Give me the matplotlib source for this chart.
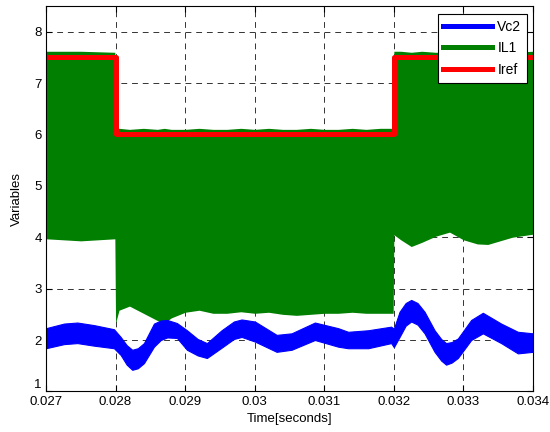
import matplotlib
matplotlib.use("Agg")
import matplotlib.pyplot as plt

# ---- data ----
# IL1: high-frequency ripple, drawn as its envelope (upper / lower)
t_il1 = [0.02700, 0.02750, 0.02799, 0.02800, 0.02805, 0.02820, 0.02840, 0.02860,
         0.02870, 0.02880, 0.02900, 0.02920, 0.02940, 0.02960, 0.02980, 0.03000,
         0.03020, 0.03040, 0.03060, 0.03080, 0.03100, 0.03120, 0.03140, 0.03160,
         0.03180, 0.03199, 0.03200, 0.03210, 0.03225, 0.03240, 0.03260, 0.03280,
         0.03300, 0.03320, 0.03335, 0.03350, 0.03370, 0.03400]
il1_hi = [7.62, 7.62, 7.60, 6.12, 6.12, 6.10, 6.12, 6.10,
          6.12, 6.10, 6.10, 6.12, 6.10, 6.10, 6.12, 6.10,
          6.12, 6.10, 6.10, 6.12, 6.10, 6.10, 6.12, 6.10,
          6.12, 6.12, 7.62, 7.62, 7.60, 7.62, 7.60, 7.60,
          7.60, 7.62, 7.60, 7.60, 7.60, 7.62]
il1_lo = [3.97, 3.93, 3.97, 2.33, 2.58, 2.66, 2.52, 2.38,
          2.33, 2.43, 2.54, 2.58, 2.52, 2.52, 2.55, 2.52,
          2.54, 2.50, 2.48, 2.50, 2.52, 2.52, 2.54, 2.52,
          2.52, 2.52, 4.05, 3.95, 3.82, 3.90, 4.02, 4.10,
          3.95, 3.87, 3.86, 3.92, 4.00, 4.06]

# Vc2: thick noisy trace, drawn as its band (upper / lower edge)
t_vc2 = [0.027000, 0.027259, 0.027450, 0.027690, 0.027977, 0.028073, 0.028160, 0.028240,
         0.028320, 0.028408, 0.028552, 0.028650, 0.028743, 0.028882, 0.029026, 0.029180,
         0.029313, 0.029524, 0.029700, 0.029812, 0.030003, 0.030315, 0.030530, 0.030865,
         0.031200, 0.031343, 0.031631, 0.031961, 0.032000, 0.032082, 0.032170, 0.032249,
         0.032340, 0.032441, 0.032585, 0.032680, 0.032751, 0.032830, 0.032920, 0.033111,
         0.033279, 0.033542, 0.033782, 0.034000]
vc2_hi = [2.23, 2.32, 2.34, 2.29, 2.21, 2.06, 1.90, 1.81,
          1.84, 1.94, 2.32, 2.38, 2.39, 2.33, 2.19, 2.02,
          1.94, 2.19, 2.36, 2.40, 2.36, 2.10, 2.13, 2.34,
          2.23, 2.16, 2.19, 2.26, 2.22, 2.55, 2.72, 2.78,
          2.72, 2.55, 2.19, 2.02, 1.94, 1.96, 2.03, 2.39,
          2.53, 2.32, 2.16, 2.13]
vc2_lo = [1.84, 1.92, 1.94, 1.89, 1.84, 1.71, 1.52, 1.42,
          1.45, 1.55, 1.87, 2.00, 2.05, 2.04, 1.81, 1.70,
          1.65, 1.85, 2.02, 2.06, 1.97, 1.77, 1.81, 2.00,
          1.87, 1.84, 1.84, 1.94, 1.86, 2.06, 2.28, 2.36,
          2.30, 2.13, 1.77, 1.60, 1.52, 1.56, 1.65, 2.00,
          2.13, 1.94, 1.74, 1.77]

# Iref (step reference)
t_ref = [0.027, 0.028, 0.032, 0.034]
iref = [7.5, 6.0, 7.5, 7.5]

x_ticks = [0.027, 0.028, 0.029, 0.030, 0.031, 0.032, 0.033, 0.034]
x_labels = ["0.027", "0.028", "0.029", "0.03", "0.031", "0.032", "0.033", "0.034"]
y_ticks = [1, 2, 3, 4, 5, 6, 7, 8]

plt.rcParams["font.family"] = ["Liberation Sans", "DejaVu Sans"]

fig = plt.figure(figsize=(5.5, 4.32), dpi=100)
ax = fig.add_axes([0.0836, 0.094, 0.8855, 0.892])

ax.fill_between(t_il1, il1_lo, il1_hi, color="#007F00", linewidth=0, zorder=2)
ax.fill_between(t_vc2, vc2_lo, vc2_hi, color="#0000FF", linewidth=0.8,
                edgecolor="#0000FF", zorder=3)
ax.plot(t_ref, iref, color="#FF0000", linewidth=3.6, drawstyle="steps-post", zorder=4)

# legend handles (shown as lines like in MATLAB)
h1, = ax.plot([], [], color="#0000FF", linewidth=3.6)
h2, = ax.plot([], [], color="#007F00", linewidth=3.6)
h3, = ax.plot([], [], color="#FF0000", linewidth=3.6)
leg = ax.legend([h1, h2, h3], ["Vc2", "IL1", "Iref"], loc="upper right",
                bbox_to_anchor=(0.9877, 0.979), fontsize=10, handlelength=3.5,
                fancybox=False, framealpha=1, edgecolor="black", borderaxespad=0,
                handletextpad=0.4, labelspacing=0.55, borderpad=0.4)
leg.get_frame().set_linewidth(0.8)
leg.set_zorder(10)

ax.set_xlim(0.027, 0.034)
ax.set_ylim(1, 8.5)
ax.set_xticks(x_ticks)
ax.set_xticklabels(x_labels)
ax.set_yticks(y_ticks)
ax.tick_params(direction="in", top=True, right=True, length=4, labelsize=9.5, pad=3)
ax.get_yticklabels()[0].set_va("bottom")

ax.set_axisbelow(True)
ax.grid(True, color="black", linestyle=(0, (6, 5)), linewidth=0.7, alpha=0.8, zorder=0)
for sp in ax.spines.values():
    sp.set_linewidth(0.8)
    sp.set_zorder(5)

ax.set_xlabel("Time[seconds]", fontsize=9.5, labelpad=4)
ax.set_ylabel("Variables", fontsize=9.5, labelpad=8)

fig.savefig("out.png", dpi=100)
